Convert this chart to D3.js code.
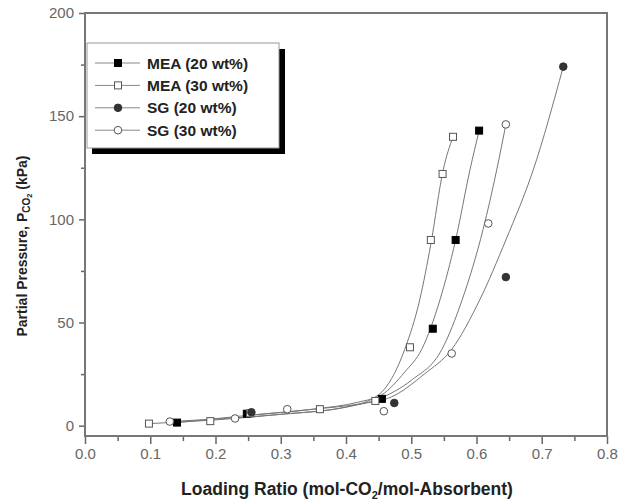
<!DOCTYPE html>
<html>
<head>
<meta charset="utf-8">
<script src="https://cdn.jsdelivr.net/npm/d3@7"></script>
<style>
  body { margin: 0; background: #fff; }
  svg { font-family: "Liberation Sans", Arial, sans-serif; }
</style>
</head>
<body>
<div class="chart"></div>
<script>
// measured points
const mea20 = [[0.141, 1.5], [0.248, 5.8], [0.455, 13], [0.533, 47], [0.568, 90], [0.604, 143]];
const mea30 = [[0.098, 1], [0.192, 2.2], [0.253, 6], [0.36, 8], [0.445, 12], [0.498, 38], [0.53, 90], [0.548, 122], [0.564, 140]];
const sg20 = [[0.255, 6.5], [0.474, 11], [0.645, 72], [0.733, 174]];
const sg30 = [[0.13, 2], [0.23, 3.5], [0.31, 8], [0.458, 7], [0.562, 35], [0.618, 98], [0.645, 146]];

// fitted curves
const mea20Fit = [[0.141, 1.5], [0.25, 5], [0.35, 8], [0.42, 11.5], [0.455, 15], [0.49, 26], [0.516, 37], [0.544, 61], [0.568, 90], [0.59, 124], [0.604, 143]];
const mea30Fit = [[0.098, 1], [0.2, 2.8], [0.3, 5.5], [0.4, 9], [0.45, 15], [0.49, 37], [0.513, 61], [0.53, 88], [0.549, 124], [0.564, 140]];
const sg20Fit = [[0.25, 5], [0.35, 8], [0.42, 10.5], [0.47, 14], [0.52, 25], [0.562, 37], [0.605, 61], [0.645, 90], [0.687, 124], [0.733, 174]];
const sg30Fit = [[0.13, 2], [0.2, 3.2], [0.3, 5.5], [0.4, 9], [0.45, 13], [0.5, 22], [0.547, 37], [0.578, 61], [0.61, 95], [0.631, 124], [0.645, 146]];

const seriesNames = ["MEA (20 wt%)", "MEA (30 wt%)", "SG (20 wt%)", "SG (30 wt%)"];
const xTicks = [0.0, 0.1, 0.2, 0.3, 0.4, 0.5, 0.6, 0.7, 0.8];
const yTicks = [0, 50, 100, 150, 200];

const width = 631, height = 502;
const margin = { top: 13, right: 24, bottom: 66, left: 85 };

const series = [
  { name: seriesNames[0], pts: mea20, fit: mea20Fit, shape: "square", fill: "#000" },
  { name: seriesNames[1], pts: mea30, fit: mea30Fit, shape: "square", fill: "#fff" },
  { name: seriesNames[2], pts: sg20, fit: sg20Fit, shape: "circle", fill: "#333" },
  { name: seriesNames[3], pts: sg30, fit: sg30Fit, shape: "circle", fill: "#fff" }
];

const svg = d3.select(".chart").append("svg")
  .attr("width", width).attr("height", height);

const x = d3.scaleLinear().domain([0, 0.8]).range([margin.left, width - margin.right]);
const y = d3.scaleLinear().domain([-5, 200]).range([height - margin.bottom, margin.top]);

// axes
const xAxis = g => g
  .attr("transform", `translate(0,${height - margin.bottom})`)
  .call(d3.axisBottom(x).tickValues(xTicks).tickFormat(d3.format(".1f")).tickSize(8).tickPadding(4))
  .call(g => g.select(".domain").remove());
const xMinor = g => g
  .attr("transform", `translate(0,${height - margin.bottom})`)
  .call(d3.axisBottom(x).tickValues(d3.range(0.05, 0.8, 0.1)).tickFormat("").tickSize(5))
  .call(g => g.select(".domain").remove());
const yAxis = g => g
  .attr("transform", `translate(${margin.left},0)`)
  .call(d3.axisLeft(y).tickValues(yTicks).tickSize(6).tickPadding(5))
  .call(g => g.select(".domain").remove());
const yMinor = g => g
  .attr("transform", `translate(${margin.left},0)`)
  .call(d3.axisLeft(y).tickValues([25, 75, 125, 175]).tickFormat("").tickSize(4))
  .call(g => g.select(".domain").remove());

svg.append("g").call(xAxis);
svg.append("g").call(xMinor);
svg.append("g").call(yAxis);
svg.append("g").call(yMinor);
svg.selectAll(".tick line").attr("stroke", "#666").attr("stroke-width", 1.5);
svg.selectAll(".tick text").attr("fill", "#666").attr("font-size", 15);

// frame
svg.append("rect")
  .attr("x", margin.left).attr("y", margin.top)
  .attr("width", width - margin.left - margin.right)
  .attr("height", height - margin.top - margin.bottom)
  .attr("fill", "none").attr("stroke", "#777").attr("stroke-width", 2);

// titles
svg.append("text")
  .attr("x", 347).attr("y", 495)
  .attr("text-anchor", "middle").attr("font-weight", "bold").attr("font-size", 17.5).attr("fill", "#222")
  .call(t => {
    t.append("tspan").text("Loading Ratio (mol-CO");
    t.append("tspan").attr("font-size", 11).attr("dy", 4).text("2");
    t.append("tspan").attr("dy", -4).text("/mol-Absorbent)");
  });

svg.append("text")
  .attr("transform", "translate(27,246) rotate(-90)")
  .attr("text-anchor", "middle").attr("font-weight", "bold").attr("font-size", 14).attr("fill", "#222")
  .call(t => {
    t.append("tspan").text("Partial Pressure, P");
    t.append("tspan").attr("font-size", 10).attr("dy", 3).text("CO");
    t.append("tspan").attr("font-size", 7.5).attr("dy", 2).text("2");
    t.append("tspan").attr("dy", -5).text(" (kPa)");
  });

// curves
const line = d3.line().curve(d3.curveMonotoneX)
  .x(d => x(d[0])).y(d => y(d[1]));

svg.append("g").selectAll("path").data(series).join("path")
  .attr("d", d => line(d.fit))
  .attr("fill", "none").attr("stroke", "#777").attr("stroke-width", 1);

// markers
function marker(sel, s, cx, cy) {
  if (s.shape === "square") {
    sel.append("rect").attr("x", cx - 3.5).attr("y", cy - 3.5).attr("width", 7).attr("height", 7)
      .attr("fill", s.fill).attr("stroke", s.fill === "#fff" ? "#555" : s.fill).attr("stroke-width", 1);
  } else {
    sel.append("circle").attr("cx", cx).attr("cy", cy).attr("r", 3.8)
      .attr("fill", s.fill).attr("stroke", s.fill === "#fff" ? "#555" : s.fill).attr("stroke-width", 1);
  }
}

const marks = svg.append("g");
series.forEach(s => {
  const g = marks.append("g");
  s.pts.forEach(p => marker(g, s, x(p[0]), y(p[1])));
});

// legend
const lg = svg.append("g");
lg.append("rect").attr("x", 92).attr("y", 49).attr("width", 193).attr("height", 105).attr("fill", "#000");
lg.append("rect").attr("x", 87).attr("y", 43).attr("width", 192).attr("height", 105)
  .attr("fill", "#fff").attr("stroke", "#999").attr("stroke-width", 1);
series.forEach((s, i) => {
  const cy = 63 + i * 22.4;
  lg.append("line").attr("x1", 95).attr("x2", 140).attr("y1", cy).attr("y2", cy)
    .attr("stroke", "#888").attr("stroke-width", 1);
  marker(lg, s, 118, cy);
  lg.append("text").attr("x", 147).attr("y", cy + 5.5)
    .attr("font-weight", "bold").attr("font-size", 15.5).attr("fill", "#222")
    .text(s.name);
});
</script>
</body>
</html>
